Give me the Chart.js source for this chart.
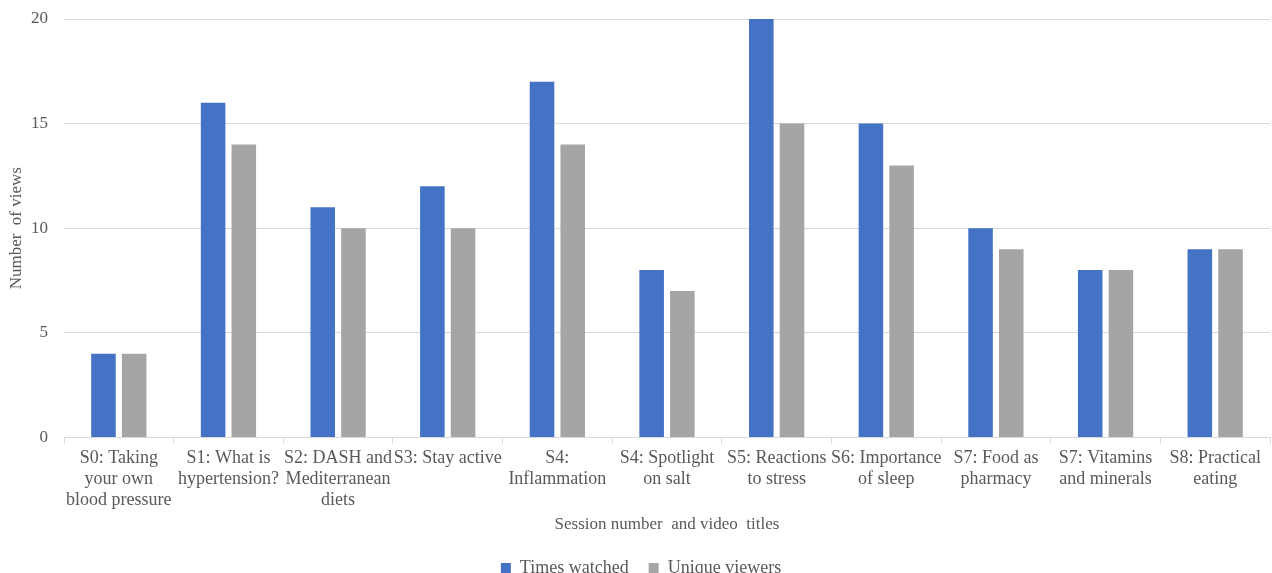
<!DOCTYPE html>
<html lang="en">
<head>
<meta charset="utf-8">
<title>Session video views</title>
<script src="https://cdn.jsdelivr.net/npm/chart.js@4.4.0/dist/chart.umd.min.js"></script>
<style>
	html, body { margin: 0; padding: 0; background: #fff; }
	#wrap { width: 1272px; height: 573px; }
</style>
</head>
<body>
<div id="wrap"><canvas id="views"></canvas></div>
<script>
// data
const sessions = [
	["S0: Taking", "your own", "blood pressure"],
	["S1: What is", "hypertension?"],
	["S2: DASH and", "Mediterranean", "diets"],
	["S3: Stay active"],
	["S4:", "Inflammation"],
	["S4: Spotlight", "on salt"],
	["S5: Reactions", "to stress"],
	["S6: Importance", "of sleep"],
	["S7: Food as", "pharmacy"],
	["S7: Vitamins", "and minerals"],
	["S8: Practical", "eating"]
];
const timesWatched = [4, 16, 11, 12, 17, 8, 20, 15, 10, 8, 9];
const uniqueViewers = [4, 14, 10, 10, 14, 7, 15, 13, 9, 8, 9];
const yTicks = [0, 5, 10, 15, 20];

const serif = "'Liberation Serif', 'DejaVu Serif', serif";
const textGray = '#595959';
Chart.defaults.font.family = serif;
Chart.defaults.color = textGray;

// push the legend row down/right a little, as in the source figure
const legendNudge = {
	id: 'legendNudge',
	afterLayout(chart) {
		const lg = chart.legend;
		lg.top += 2; lg.bottom += 2;
		lg.left += 6; lg.right += 6;
	}
};

new Chart(document.getElementById('views'), {
	type: 'bar',
	data: {
		labels: sessions,
		datasets: [
			{ label: 'Times watched', data: timesWatched, backgroundColor: '#4472c4' },
			{ label: 'Unique viewers', data: uniqueViewers, backgroundColor: '#a5a5a5' }
		]
	},
	options: {
		responsive: true,
		maintainAspectRatio: false,
		animation: false,
		datasets: { bar: { barPercentage: 0.8, categoryPercentage: 0.56 } },
		layout: { padding: { top: 0, right: 2, left: 0, bottom: -12 } },
		plugins: {
			tooltip: { enabled: false },
			legend: {
				position: 'bottom',
				labels: { boxWidth: 10, boxHeight: 10, padding: 20, font: { size: 18 }, color: textGray }
			}
		},
		scales: {
			x: {
				grid: { display: true, drawOnChartArea: false, drawTicks: true, tickLength: 6, color: '#d9d9d9' },
				border: { color: '#d9d9d9' },
				ticks: { maxRotation: 0, autoSkip: false, font: { size: 18, lineHeight: 1.17 }, padding: 4 },
				title: { display: true, text: 'Session number  and video  titles', font: { size: 17 }, padding: { top: 0, bottom: 2 } }
			},
			y: {
				min: 0, max: 20,
				afterBuildTicks: (axis) => { axis.ticks = yTicks.map(v => ({ value: v })); },
				afterFit: (axis) => { axis.width = 64; axis.paddingTop = 19; },
				grid: { color: '#d9d9d9', drawTicks: false },
				border: { display: false },
				ticks: { font: { size: 17 }, padding: 16 },
				title: { display: true, text: 'Number  of views', font: { size: 17 }, padding: { top: 6, bottom: 0 } }
			}
		}
	},
	plugins: [legendNudge]
});
</script>
</body>
</html>
